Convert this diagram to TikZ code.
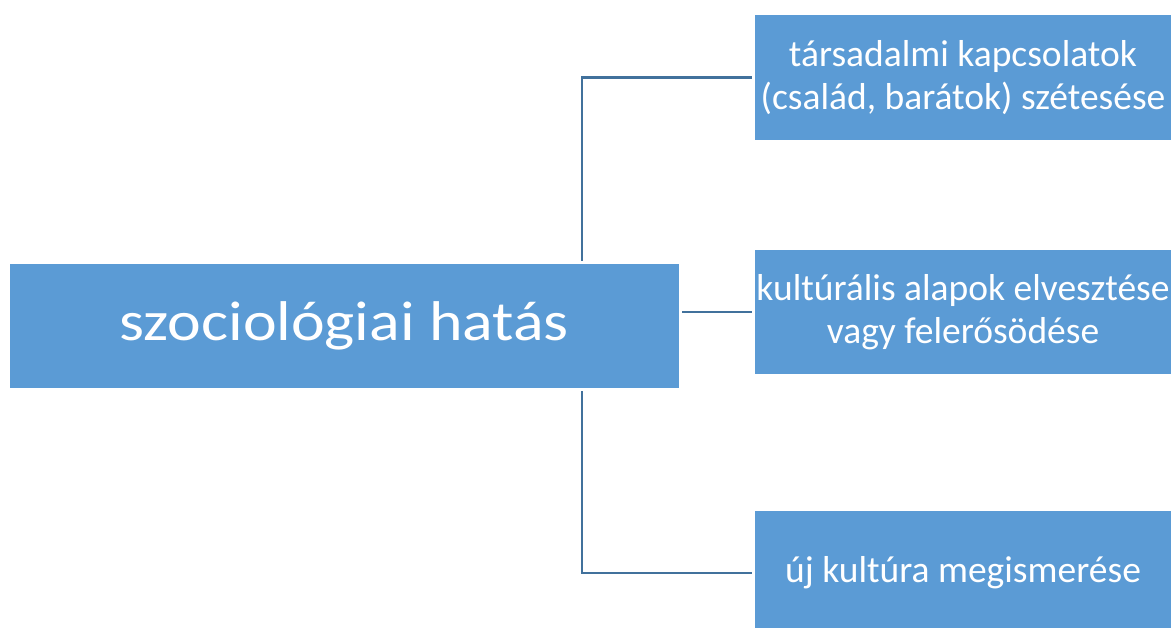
\documentclass[tikz,border=0pt]{standalone}
\usepackage{fontspec}
\setmainfont{Carlito}
\newfontfamily\widefont[FakeStretch=1.14]{Carlito}
\definecolor{boxblue}{HTML}{5B9BD5}
\definecolor{lineblue}{HTML}{41719C}
\begin{document}
\begin{tikzpicture}[x=1pt,y=1pt,
  box/.style={fill=boxblue,draw=none,inner sep=0pt,text=white,align=center,anchor=center},
  side/.style={box,minimum width=416pt,minimum height=124pt,font=\fontsize{37.5}{43}\selectfont},
  conn/.style={draw=lineblue,line width=2.2pt}]
\useasboundingbox (0,0) rectangle (1171,628);
\clip (0,0) rectangle (1171,628);
\node[box,minimum width=669.5pt,minimum height=124pt,font=\widefont\fontsize{56}{60}\selectfont] (main) at (344.25,302) {szociológiai hatás};
\node[side,minimum height=125pt] (t1) at (963,550.5) {társadalmi kapcsolatok\\(család, barátok) szétesése};
\node[side] (t2) at (963,316) {kultúrális alapok elvesztése\\vagy felerősödése};
\node[side] (t3) at (963,55) {új kultúra megismerése};
\coordinate (jx) at (581.7,0);
\draw[conn] ([yshift=3pt]main.north -| jx) |- ([xshift=-3pt]t1.west);
\draw[conn] ([xshift=3pt]main.east |- t2.west) -- ([xshift=-3pt]t2.west);
\draw[conn] ([yshift=-3pt]main.south -| jx) |- ([xshift=-3pt]t3.west);
\end{tikzpicture}
\end{document}
